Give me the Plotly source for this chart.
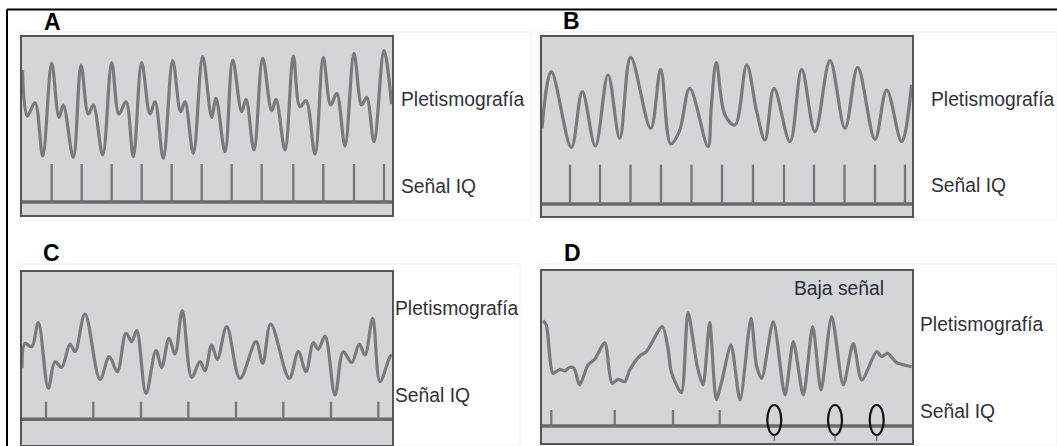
import plotly.graph_objects as go

FIG_W, FIG_H = 1057, 446

# ---------------- data (time samples / amplitude) ----------------
# Panel A: regular pulse waveform with dicrotic notch
a_time = [0.5, 5.3, 13, 20.7, 29.7, 37, 41.3, 51.3, 59, 66.3, 71.3, 80.7, 89.7, 97, 104,
          111.3, 119.7, 128, 133, 141.3, 150.7, 158.7, 163, 171.3, 180.7, 189.7, 194, 203,
          210.7, 219.7, 224, 232, 240.7, 249.7, 254, 263, 271.3, 278, 284, 293, 301.3,
          308.7, 314.7, 323, 332, 339.7, 344.7, 352, 362, 369.5]
a_amp = [145, 99, 112.3, 59, 151.7, 97.7, 110, 57.7, 150, 101, 110, 60, 152.3, 101, 113.3,
         58.3, 152.3, 101, 113.3, 56.7, 154.3, 103.3, 113.3, 61.7, 158.3, 97.7, 116.7, 63.3,
         155, 103.3, 115.7, 65, 156.7, 104.3, 115.7, 65, 159, 108.3, 114.3, 61, 157.7,
         110, 121.7, 69, 161.7, 110, 117.7, 73.3, 164.3, 111]
a_iq = [29.7, 59.7, 89.7, 119.7, 149.7, 179.7, 209.7, 239.7, 271.3, 301.3, 332, 362]

# Panel B: irregular amplitude waveform
b_time = [0, 9.3, 29.3, 40.3, 53.3, 66, 77.7, 88.7, 108.7, 118.7, 128.7, 137.5, 147.7,
          166, 169.3, 174.3, 183, 193, 204.7, 214.7, 223, 232, 248, 259.7, 273, 288, 303,
          315.7, 333, 344.7, 359.7, 369.5]
b_amp = [87.7, 144.3, 68.7, 124.3, 70, 141, 77.7, 158.7, 87.7, 146.7, 72, 85, 127.7,
         69.3, 109.3, 153.3, 101, 91, 151, 104.3, 76, 127.7, 74.3, 146.7, 84.3, 155.3, 87.7,
         148.7, 76.7, 126, 74.3, 131]
b_iq = [28, 58, 88.5, 119, 149.5, 180, 211, 242, 272, 302.5, 333, 363]

# Panel C: noisy waveform
c_time = [0, 3, 9.7, 16.3, 26.3, 33, 39.7, 48, 53, 63, 78, 87.3, 95.3, 104, 109.7, 114.7,
          124, 134, 139.7, 147, 153, 160.3, 169.7, 178, 183, 189.7, 195.3, 204.7, 218, 234,
          240.7, 248.7, 267.3, 276.3, 284, 291.3, 296.3, 303, 313, 321.3, 329.7, 337.3,
          343, 350.7, 358, 368, 370]
c_amp = [76.7, 101.7, 98.3, 122.3, 56.7, 83.3, 77.7, 101, 93.3, 131, 65.7, 88.3, 73.3,
         111.7, 103.3, 114.3, 51.7, 94.3, 77.7, 106.7, 91, 134.3, 67.7, 83.3, 74.3, 100,
         85.7, 118.3, 66.7, 103.3, 81.7, 121, 66.7, 93.3, 73.3, 102.3, 95.7, 109, 50,
         93.3, 82.3, 101, 90, 126.7, 63.3, 88.3, 90]
c_iq = [24, 71.3, 119, 166.3, 214, 261.3, 309, 356.3]

# Panel D: low signal waveform
d_time = [1, 4.3, 11, 17.7, 22.7, 27.7, 32, 37.7, 46, 52.7, 62.7, 70, 76, 82.7, 87.7,
          97.7, 104.3, 120.3, 126, 129.3, 139.3, 146, 155.3, 161, 167.7, 174.3, 179.7, 189,
          198, 209, 214.7, 219.7, 231.3, 243, 251.3, 261.3, 270.7, 279, 289.7, 301.3,
          311.3, 319.7, 334.7, 339.7, 345.7, 354.7, 369.7]
d_amp = [122.3, 118, 69.7, 73.7, 72, 75.7, 74.7, 58, 78, 83.7, 100.3, 59.7, 63.7, 61.3,
         73, 87, 91.3, 116.3, 94.7, 71.3, 50.3, 130.3, 76.3, 58, 120.3, 43.7, 61.3, 98, 43,
         124.7, 76.3, 64.7, 121.3, 48, 101.3, 48, 116.3, 53, 126.3, 58, 99.7, 63, 91.3,
         86.3, 89.7, 80.3, 76.3]
d_iq = [9.3, 72.7, 131, 177.7]
d_lost = [232.3, 293, 334.7]   # positions of lost IQ signal (ovals)

label_pleth = "Pletismografía"
label_iq = "Señal IQ"
label_low = "Baja señal"
panel_letters = ["A", "B", "C", "D"]

# ---------------- styling ----------------
BG = "#d4d5d8"
WAVE = "#7a7a7a"
TICK = "#767676"
BASE = "#6a6a6a"
BORDER = "#555555"
TXT = "#30303a"
FONT = "Liberation Sans, Arial, sans-serif"

# panel boxes in pixels: left, right, top, bottom ; baseline & tick top in data units
panels = [
    dict(t=a_time, v=a_amp, iq=a_iq, box=(22, 392, 36.5, 215), base=13, top=51, sm=1.0),
    dict(t=b_time, v=b_amp, iq=b_iq, box=(542, 912, 37, 216), base=12, top=51.4, sm=1.0),
    dict(t=c_time, v=c_amp, iq=c_iq, box=(22, 392, 271.6, 445), base=25.7, top=43.3, sm=1.0),
    dict(t=d_time, v=d_amp, iq=d_iq, box=(542, 912, 271, 443), base=17, top=33, sm=0.75),
]

fig = go.Figure()
layout_axes = {}
shapes = []

for i, p in enumerate(panels, start=1):
    xa = "x" if i == 1 else f"x{i}"
    ya = "y" if i == 1 else f"y{i}"
    l, r, t, b = p["box"]
    width = r - l
    height = b - t
    xname = "xaxis" if i == 1 else f"xaxis{i}"
    yname = "yaxis" if i == 1 else f"yaxis{i}"
    common = dict(showgrid=False, zeroline=False, showticklabels=False, ticks="",
                  showline=True, mirror=True, linecolor=BORDER, linewidth=1.5, fixedrange=True)
    layout_axes[xname] = dict(domain=[l / FIG_W, r / FIG_W], range=[0, width],
                              anchor=ya, **common)
    layout_axes[yname] = dict(domain=[1 - b / FIG_H, 1 - t / FIG_H], range=[0, height],
                              anchor=xa, **common)

    # baseline of the IQ strip
    fig.add_trace(go.Scatter(x=[0, width], y=[p["base"], p["base"]], mode="lines",
                             line=dict(color=BASE, width=3.5), xaxis=xa, yaxis=ya,
                             hoverinfo="skip"))
    # IQ ticks
    tx, ty = [], []
    for q in p["iq"]:
        tx += [q, q, None]
        ty += [p["base"], p["top"], None]
    fig.add_trace(go.Scatter(x=tx, y=ty, mode="lines", line=dict(color=TICK, width=2.3),
                             xaxis=xa, yaxis=ya, hoverinfo="skip"))
    # waveform
    fig.add_trace(go.Scatter(x=p["t"], y=p["v"], mode="lines",
                             line=dict(color=WAVE, width=3.2, shape="spline", smoothing=p["sm"]),
                             xaxis=xa, yaxis=ya, cliponaxis=True, hoverinfo="skip"))

# ovals for lost IQ signal in panel D
for c in d_lost:
    shapes.append(dict(type="circle", xref="x4", yref="y4", x0=c - 7, x1=c + 7, y0=8, y1=38,
                       line=dict(color="#111111", width=2.2), layer="above"))
    shapes.append(dict(type="line", xref="x4", yref="y4", x0=c, x1=c, y0=8, y1=2,
                       line=dict(color="#444444", width=1), layer="above"))

# faint borders of the original image tiles
for (x0, y0, x1, y1) in [(20, 32, 531, 220), (539, 32, 1057, 220), (20, 264, 520, 446),
                         (540, 264, 1057, 446)]:
    shapes.append(dict(type="rect", xref="paper", yref="paper", x0=x0 / FIG_W, x1=x1 / FIG_W,
                       y0=1 - y1 / FIG_H, y1=1 - y0 / FIG_H,
                       line=dict(color="#f0f0f0", width=1), layer="below"))

# black outer frame (top and left)
shapes.append(dict(type="line", xref="paper", yref="paper", x0=7 / FIG_W, x1=1,
                   y0=1 - 9.5 / FIG_H, y1=1 - 9.5 / FIG_H, line=dict(color="black", width=2)))
shapes.append(dict(type="line", xref="paper", yref="paper", x0=7 / FIG_W, x1=7 / FIG_W,
                   y0=0, y1=1 - 9.5 / FIG_H, line=dict(color="black", width=2)))

annotations = []


def txt(s, x, y, size=19.3, color=TXT, anchor="left", bold=False):
    annotations.append(dict(text=f"<b>{s}</b>" if bold else s, xref="paper", yref="paper",
                            x=x / FIG_W, y=1 - y / FIG_H, xanchor=anchor, yanchor="middle",
                            showarrow=False, font=dict(family=FONT, size=size, color=color)))


txt(label_pleth, 399, 100)
txt(label_iq, 399, 186)
txt(label_pleth, 929, 100)
txt(label_iq, 929, 185)
txt(label_pleth, 393, 308)
txt(label_iq, 393, 395)
txt(label_pleth, 918, 324)
txt(label_iq, 918, 411)
txt(label_low, 792, 288, color="#2a2a3a")

for letter, (x, y) in zip(panel_letters, [(52, 22), (571, 21), (51.5, 253), (572, 252.5)]):
    txt(letter, x, y, size=23, color="black", anchor="center", bold=True)

fig.update_layout(width=FIG_W, height=FIG_H, margin=dict(l=0, r=0, t=0, b=0),
                  paper_bgcolor="white", plot_bgcolor=BG, showlegend=False,
                  shapes=shapes, annotations=annotations, **layout_axes)

fig.write_html("out.html")
